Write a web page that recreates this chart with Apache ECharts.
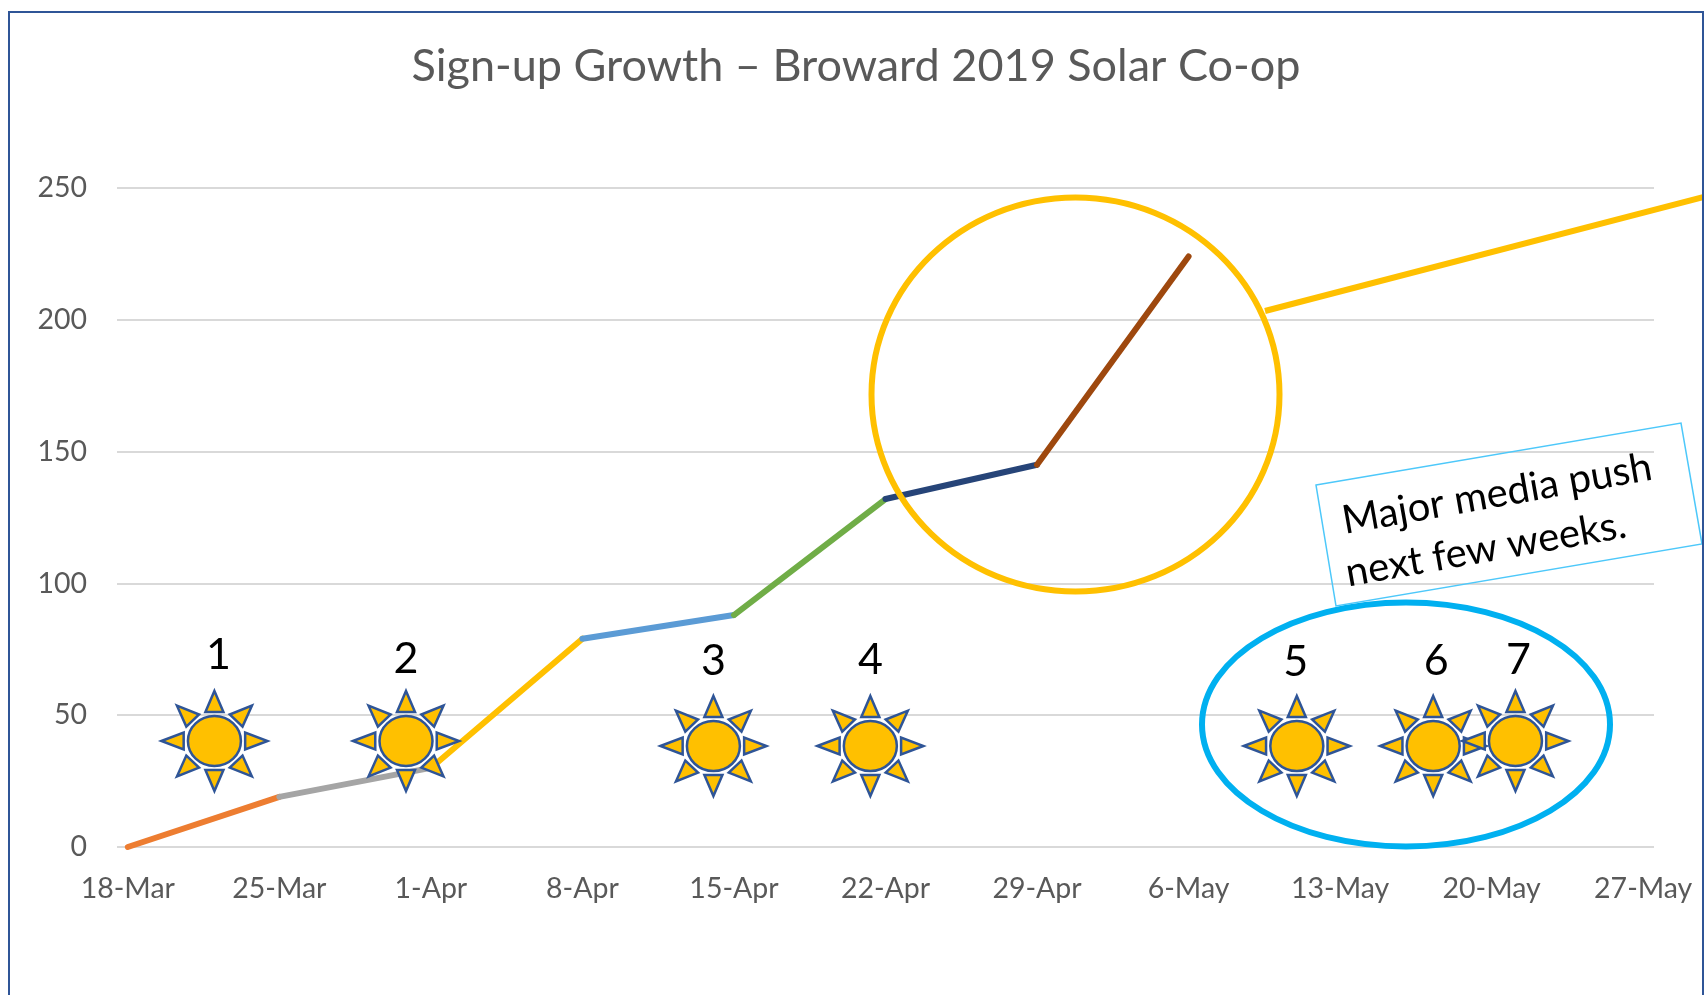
<!DOCTYPE html>
<html>
<head>
<meta charset="utf-8">
<title>Sign-up Growth</title>
<script src="https://cdn.jsdelivr.net/npm/echarts@6/dist/echarts.min.js"></script>
<style>
  html, body { margin: 0; padding: 0; background: #fff; overflow: hidden; }
  #chart { width: 1704px; height: 995px; }
</style>
</head>
<body>
<div id="chart"></div>
<script>
var weekLabels = ['18-Mar', '25-Mar', '1-Apr', '8-Apr', '15-Apr', '22-Apr', '29-Apr', '6-May', '13-May', '20-May', '27-May'];
var signups = [0, 19, 30, 79, 88, 132, 145, 224];
var segmentColors = ['#ed7d31', '#a5a5a5', '#ffc000', '#5b9bd5', '#70ad47', '#264478', '#9e480e'];

// suns: day counted from 18-Mar, height on the value axis
var sunNumbers = ['1', '2', '3', '4', '5', '6', '7'];
var sunDays = [4, 12.85, 27.05, 34.3, 54, 60.3, 64.1];
var sunLevels = [40.2, 40.2, 38.3, 38.3, 38.3, 38.3, 40.2];
var numberShiftX = [4, 0, 0, 0, -1, 3, 3];
var numberShiftY = [-86, -82, -85, -86, -84, -85, -81];

var DAYS_PER_WEEK = 7;
var weekDays = weekLabels.map(function (l, i) { return i * DAYS_PER_WEEK; });

var fontName = 'Lato';
var textGrey = '#595959';
var sunFill = '#ffc000';
var sunEdge = '#2f5597';

var chart = echarts.init(document.getElementById('chart'));

// one line series per week, each week has its own colour in the original
var lineSeries = segmentColors.map(function (color, i) {
  return {
    type: 'line',
    data: [[weekDays[i], signups[i]], [weekDays[i + 1], signups[i + 1]]],
    symbol: 'none',
    silent: true,
    z: 2 + i / 10,
    lineStyle: { color: color, width: 6, cap: 'round' }
  };
});

function sunRays() {
  var rays = [];
  for (var k = 0; k < 8; k++) {
    var a = k * Math.PI / 4;
    var c = Math.cos(a), s = Math.sin(a);
    rays.push([
      [50 * c * 1.06, 50 * s],
      [(29 * c - 8.5 * s) * 1.06, 29 * s + 8.5 * c],
      [(29 * c + 8.5 * s) * 1.06, 29 * s - 8.5 * c]
    ]);
  }
  return rays;
}

function renderSun(params, api) {
  var p = api.coord([api.value(0), api.value(1)]);
  var i = params.dataIndex;
  var children = sunRays().map(function (pts) {
    return {
      type: 'polygon',
      shape: { points: pts.map(function (q) { return [p[0] + q[0], p[1] + q[1]]; }) },
      style: { fill: sunFill, stroke: sunEdge, lineWidth: 2.5 }
    };
  });
  children.push({
    type: 'ellipse',
    shape: { cx: p[0], cy: p[1], rx: 26.5, ry: 25 },
    style: { fill: sunFill, stroke: sunEdge, lineWidth: 2.5 }
  });
  children.push({
    type: 'text',
    style: {
      x: p[0] + numberShiftX[i],
      y: p[1] + numberShiftY[i],
      text: sunNumbers[i],
      fill: '#000',
      font: '43px ' + fontName,
      align: 'center',
      verticalAlign: 'middle'
    }
  });
  return { type: 'group', children: children };
}

var option = {
  backgroundColor: '#fff',
  animation: false,
  title: {
    text: 'Sign-up Growth \u2013 Broward 2019 Solar Co-op',
    left: 851,
    top: 39,
    textAlign: 'center',
    textStyle: { color: textGrey, fontFamily: fontName, fontSize: 45, fontWeight: 'normal' }
  },
  grid: { left: 117, right: 50, top: 188, bottom: 148 },
  xAxis: {
    type: 'value',
    min: -0.5,
    max: 70.5,
    splitLine: { show: false },
    axisLine: { show: false },
    axisTick: { show: false },
    axisLabel: {
      customValues: weekDays,
      formatter: function (v) { return weekLabels[Math.round(v / DAYS_PER_WEEK)]; },
      color: textGrey,
      fontFamily: fontName,
      fontSize: 28.5,
      margin: 27
    }
  },
  yAxis: {
    type: 'value',
    min: 0,
    max: 250,
    interval: 50,
    axisLine: { show: false },
    axisTick: { show: false },
    splitLine: { lineStyle: { color: '#d9d9d9', width: 2 } },
    axisLabel: { color: textGrey, fontFamily: fontName, fontSize: 28.5, margin: 30 }
  },
  series: lineSeries.concat([{
    type: 'custom',
    silent: true,
    z: 5,
    clip: false,
    renderItem: renderSun,
    encode: { x: 0, y: 1 },
    data: sunDays.map(function (d, i) { return [d, sunLevels[i]]; })
  }]),
  graphic: [
    {
      type: 'rect', z: 60, silent: true,
      shape: { x: 9, y: 12, width: 1694, height: 1000 },
      style: { fill: 'none', stroke: sunEdge, lineWidth: 2 }
    },
    {
      type: 'ellipse', z: 50, silent: true,
      shape: { cx: 1075.5, cy: 394.5, rx: 204, ry: 197 },
      style: { fill: 'none', stroke: '#ffc000', lineWidth: 6 }
    },
    {
      type: 'line', z: 50, silent: true,
      shape: { x1: 1265, y1: 311, x2: 1704, y2: 197 },
      style: { stroke: '#ffc000', lineWidth: 6 }
    },
    {
      type: 'ellipse', z: 50, silent: true,
      shape: { cx: 1406, cy: 724.5, rx: 204, ry: 122 },
      style: { fill: 'none', stroke: '#00b0f0', lineWidth: 6 }
    },
    {
      type: 'polygon', z: 50, silent: true,
      shape: { points: [[1316, 485], [1681, 423], [1702, 544], [1336, 606]] },
      style: { fill: 'none', stroke: '#4dc8fa', lineWidth: 1.5 }
    },
    {
      type: 'text', z: 51, silent: true,
      x: 1497, y: 494, rotation: 10 * Math.PI / 180,
      style: { text: 'Major media push', fill: '#000', font: '40px ' + fontName, align: 'center', verticalAlign: 'middle' }
    },
    {
      type: 'text', z: 51, silent: true,
      x: 1486, y: 549, rotation: 10 * Math.PI / 180,
      style: { text: 'next few weeks.', fill: '#000', font: '40px ' + fontName, align: 'center', verticalAlign: 'middle' }
    }
  ]
};

chart.setOption(option);
</script>
</body>
</html>
